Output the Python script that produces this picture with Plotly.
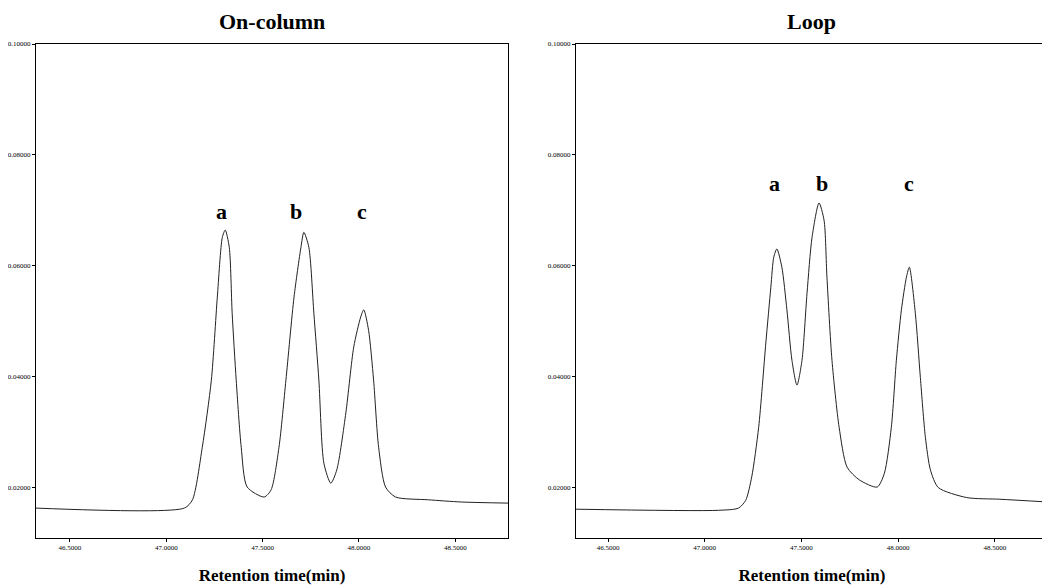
import plotly.graph_objects as go
from plotly.subplots import make_subplots

# On-column chromatogram (traced)
oncol_time = [46.324, 47.094, 47.136, 47.187, 47.234, 47.265, 47.291, 47.306, 47.327, 47.342,
              47.363, 47.389, 47.420, 47.508, 47.544, 47.585, 47.621, 47.663, 47.699, 47.714,
              47.740, 47.766, 47.792, 47.818, 47.854, 47.885, 47.932, 47.973, 48.009, 48.025,
              48.050, 48.076, 48.102, 48.138, 48.190, 48.360, 48.531, 48.774]
oncol_signal = [0.0162, 0.0162, 0.0177, 0.0272, 0.0393, 0.0543, 0.0651, 0.0664, 0.0633, 0.0514,
                0.0393, 0.0272, 0.0200, 0.0182, 0.0195, 0.0272, 0.0393, 0.0543, 0.0633, 0.0660,
                0.0633, 0.0514, 0.0393, 0.0243, 0.0207, 0.0231, 0.0334, 0.0453, 0.0507, 0.0520,
                0.0483, 0.0393, 0.0272, 0.0200, 0.0182, 0.0177, 0.0173, 0.0171]

# Loop chromatogram (traced)
loop_time = [46.334, 47.071, 47.175, 47.212, 47.243, 47.279, 47.316, 47.342, 47.357, 47.373,
             47.399, 47.425, 47.451, 47.477, 47.503, 47.529, 47.555, 47.591, 47.617, 47.632,
             47.658, 47.695, 47.736, 47.799, 47.892, 47.929, 47.965, 47.991, 48.017, 48.043,
             48.058, 48.089, 48.115, 48.141, 48.167, 48.208, 48.355, 48.526, 48.775]
loop_signal = [0.0160, 0.0158, 0.0162, 0.0176, 0.0218, 0.0308, 0.0460, 0.0561, 0.0615, 0.0630,
               0.0597, 0.0520, 0.0429, 0.0384, 0.0429, 0.0550, 0.0651, 0.0713, 0.0682, 0.0579,
               0.0429, 0.0308, 0.0236, 0.0213, 0.0200, 0.0225, 0.0308, 0.0429, 0.0520, 0.0579,
               0.0597, 0.0514, 0.0398, 0.0290, 0.0231, 0.0199, 0.0181, 0.0178, 0.0173]

x_ticks = [46.5, 47.0, 47.5, 48.0, 48.5]
x_tick_labels = ["46.5000", "47.0000", "47.5000", "48.0000", "48.5000"]
y_ticks = [0.02, 0.04, 0.06, 0.08, 0.10]
y_tick_labels = ["0.02000", "0.04000", "0.06000", "0.08000", "0.10000"]

panel_titles = ["On-column", "Loop"]
peak_labels = ["a", "b", "c"]
oncol_label_x = [47.286, 47.674, 48.015]
oncol_label_y = 0.0697
loop_label_x = [47.362, 47.606, 48.058]
loop_label_y = 0.0749

fig = make_subplots(rows=1, cols=2, horizontal_spacing=0.067)
fig.add_trace(go.Scatter(x=oncol_time, y=oncol_signal, mode="lines",
                         line=dict(color="#222222", width=1, shape="spline", smoothing=0.7),
                         showlegend=False), row=1, col=1)
fig.add_trace(go.Scatter(x=loop_time, y=loop_signal, mode="lines",
                         line=dict(color="#222222", width=1, shape="spline", smoothing=0.7),
                         showlegend=False), row=1, col=2)

serif = "Liberation Serif, Times New Roman, serif"
axis_common = dict(showline=True, linecolor="black", linewidth=1, mirror=True,
                   showgrid=False, zeroline=False, ticks="outside", ticklen=3,
                   tickcolor="black", automargin=False,
                   tickfont=dict(family=serif, size=7, color="black"))

fig.update_xaxes(**axis_common, tickvals=x_ticks, ticktext=x_tick_labels,
                 title=dict(text="<b>Retention time(min)</b>",
                            font=dict(family=serif, size=17, color="black"), standoff=17))
fig.update_yaxes(**axis_common, tickvals=y_ticks, ticktext=y_tick_labels,
                 range=[0.0108, 0.1])
fig.update_xaxes(range=[46.324, 48.774], row=1, col=1)
fig.update_xaxes(range=[46.334, 48.775], row=1, col=2)

for i, t in enumerate(panel_titles):
    xref = "x domain" if i == 0 else "x2 domain"
    fig.add_annotation(text=f"<b>{t}</b>", xref=xref, yref="paper", x=0.5, y=1.0,
                       yanchor="middle", yshift=23, showarrow=False,
                       font=dict(family=serif, size=22, color="black"))

for lab, xv in zip(peak_labels, oncol_label_x):
    fig.add_annotation(text=f"<b>{lab}</b>", x=xv, y=oncol_label_y, xref="x", yref="y",
                       showarrow=False, font=dict(family=serif, size=22, color="black"))
for lab, xv in zip(peak_labels, loop_label_x):
    fig.add_annotation(text=f"<b>{lab}</b>", x=xv, y=loop_label_y, xref="x2", yref="y2",
                       showarrow=False, font=dict(family=serif, size=22, color="black"))

fig.update_layout(width=1042, height=579, plot_bgcolor="white", paper_bgcolor="white",
                  margin=dict(l=28, r=2, t=36, b=49))

fig.write_html("out.html")
